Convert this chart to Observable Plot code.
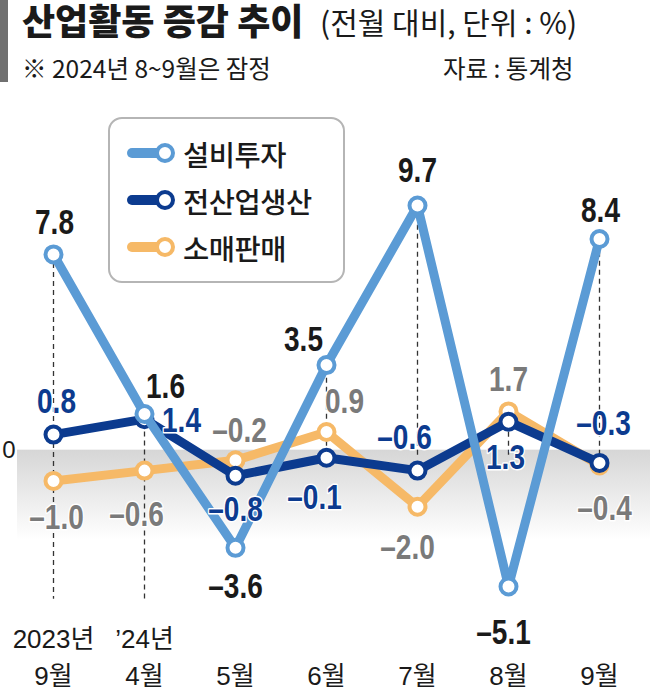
<!DOCTYPE html>
<html>
<head>
<meta charset="utf-8">
<script src="https://cdn.jsdelivr.net/npm/d3@7"></script>
<script src="https://cdn.jsdelivr.net/npm/@observablehq/plot@0.6"></script>
<style>
  body { margin: 0; background: #fff; }
  #wrap { position: relative; width: 650px; height: 690px; overflow: hidden;
          font-family: "Noto Sans CJK KR", sans-serif; color: #1a1a1a; }
  #bar { position: absolute; left: 0; top: 0; width: 8px; height: 82px; background: #707070; }
  .hd { position: absolute; white-space: nowrap; line-height: 1.1; transform-origin: left center; }
  #title { left: 22px; top: 0px; font-size: 36px; font-weight: 900; }
  #subtitle { left: 320px; top: 5px; font-size: 30px; font-weight: 400; }
  #note { left: 22px; top: 55px; font-size: 24.5px; }
  #source { left: 443px; top: 55px; font-size: 24.5px; }
  #chart { position: absolute; left: 0; top: 97px; }
  #legend { position: absolute; left: 108px; top: 117px; width: 233px; height: 162px;
            border: 2px solid #b5b5b5; border-radius: 14px; background: #fff; }
  .row { position: absolute; left: 17px; height: 40px; display: flex; align-items: center; }
  .row span { font-size: 28.5px; font-weight: 500; margin-left: 8px; letter-spacing: -0.5px; }
</style>
</head>
<body>
<div id="wrap">
  <div id="bar"></div>
  <div id="title" class="hd">산업활동 증감 추이</div>
  <div id="subtitle" class="hd">(전월 대비, 단위 : %)</div>
  <div id="note" class="hd">※ 2024년 8~9월은 잠정</div>
  <div id="source" class="hd">자료 : 통계청</div>
  <div id="chart"></div>
  <div id="legend"></div>
</div>
<script>
// ---- data ----
const months = ["2023년\n9월", "’24년\n4월", "5월", "6월", "7월", "8월", "9월"];
const seriesNames = ["설비투자", "전산업생산", "소매판매"];
const facilityInvestment = [7.8, 1.6, -3.6, 3.5, 9.7, -5.1, 8.4];
const industrialProduction = [0.8, 1.4, -0.8, -0.1, -0.6, 1.3, -0.3];
const retailSales = [-1.0, -0.6, -0.2, 0.9, -2.0, 1.7, -0.4];
const yTickValues = [0];

// ---- styles / layout ----
const seriesValues = [facilityInvestment, industrialProduction, retailSales];
const lineColors = ["#5b9bd5", "#0c3b8f", "#f6b967"];
const labelColors = ["#1a1a1a", "#0c3b8f", "#7a7a7a"];
const labelWeights = [700, 700, 700];
const labelOffsets = [
  [[1, -32], [21, -27], [0, 39], [-23, -25], [0, -35], [-5, 46], [1, -28]],
  [[3, -33], [37, 2], [0, 34], [-12, 40], [-13, -33], [-3, 36], [4, -39]],
  [[3, 37], [-8, 44], [4, -30], [18, -30], [-10, 41], [0, -32], [5, 43]]
];
const NUM_FONT = '"Liberation Sans", Arial, "Noto Sans CJK KR", sans-serif';

const rows = seriesNames.map((s, si) =>
  seriesValues[si].map((v, i) => ({series: s, si, month: months[i], value: v,
    dx: labelOffsets[si][i][0], dy: labelOffsets[si][i][1]})));

const fmt = v => (v < 0 ? "–" : "") + Math.abs(v).toFixed(1);
const monthMax = months.map((m, i) => ({month: m, top: d3.max(seriesValues, s => s[i]), twoLine: m.includes("\n")}));

const drawOrder = [2, 1, 0];
const marks = [
  Plot.rect([0], {y1: 0, y2: -3.5, fill: "url(#bandGrad)", dy: -5}),
  Plot.text(yTickValues, {y: d => d, text: d => String(d), frameAnchor: "left", textAnchor: "end",
    dx: -2, dy: -5, fontSize: 24, fill: "#1a1a1a", fontFamily: NUM_FONT}),
  Plot.ruleX(monthMax.filter(d => d.twoLine), {x: "month", y1: "top", y2: -5.6,
    stroke: "#333", strokeWidth: 1.3, strokeDasharray: "5,4"}),
  Plot.ruleX(monthMax.filter(d => !d.twoLine), {x: "month", y1: "top",
    stroke: "#333", strokeWidth: 1.3, strokeDasharray: "5,4"})
];
for (const si of drawOrder) {
  marks.push(Plot.line(rows[si], {x: "month", y: "value", stroke: lineColors[si], strokeWidth: 9,
    strokeLinejoin: "round", strokeLinecap: "round"}));
  marks.push(Plot.dot(rows[si], {x: "month", y: "value", r: 8, fill: "white",
    stroke: lineColors[si], strokeWidth: 4}));
}
for (const si of drawOrder) {
  for (const d of rows[si]) {
    marks.push(Plot.text([d], {x: "month", y: "value", text: d => fmt(d.value), dx: d.dx, dy: d.dy,
      fill: labelColors[si], stroke: "white", strokeWidth: 3, fontSize: 35,
      fontWeight: labelWeights[si], fontFamily: NUM_FONT, className: "numlabel"}));
  }
}
marks.push(Plot.text(months, {x: d => d, text: d => d, frameAnchor: "bottom", lineAnchor: "bottom",
  dy: 39, fontSize: 26, lineHeight: 1.4, fill: "#1a1a1a", fontFamily: NUM_FONT, className: "ticklabel"}));

const chart = Plot.plot({
  width: 650,
  height: 593,
  marginLeft: 17,
  marginRight: 0,
  marginTop: 0,
  marginBottom: 45,
  x: {type: "point", domain: months, range: [50, 601], padding: 0, axis: null},
  y: {domain: [-8, 12], range: [563.6, 48.8], axis: null},
  style: {fontFamily: '"Noto Sans CJK KR", sans-serif', overflow: "visible", background: "transparent"},
  marks
});
const defs = d3.select(chart).insert("defs", ":first-child");
const grad = defs.append("linearGradient").attr("id", "bandGrad")
  .attr("x1", 0).attr("y1", 0).attr("x2", 0).attr("y2", 1);
grad.append("stop").attr("offset", "0%").attr("stop-color", "#d6d6d6");
grad.append("stop").attr("offset", "100%").attr("stop-color", "#ffffff");
function squeeze(sel, k) {
  d3.select(chart).selectAll(sel).each(function() {
    const t = this.getAttribute("transform") || "";
    this.setAttribute("transform", t + ` scale(${k},1)`);
  });
}
squeeze(".numlabel text", 0.8);
document.getElementById("chart").appendChild(chart);

// ---- legend ----
const legend = document.getElementById("legend");
seriesNames.forEach((name, i) => {
  const row = document.createElement("div");
  row.className = "row";
  row.style.top = (14 + i * 47) + "px";
  row.innerHTML = `<svg width="48" height="24"><line x1="5" y1="12" x2="36" y2="12" stroke="${lineColors[i]}" stroke-width="10" stroke-linecap="round"/><circle cx="38" cy="12" r="8" fill="white" stroke="${lineColors[i]}" stroke-width="4"/></svg><span>${name}</span>`;
  legend.appendChild(row);
});
</script>
</body>
</html>
